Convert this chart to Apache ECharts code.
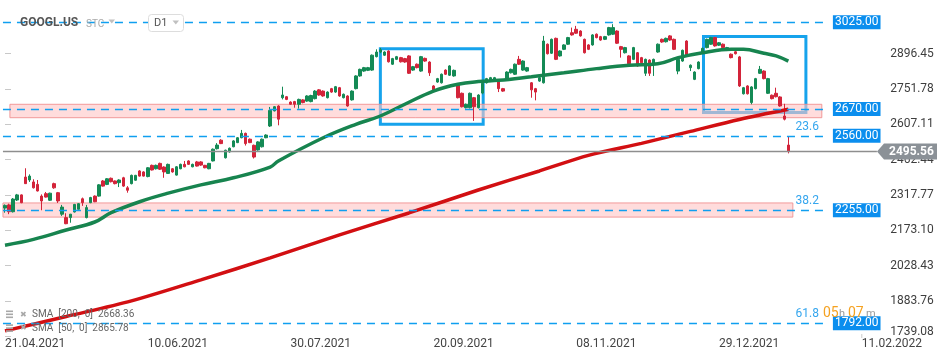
<!DOCTYPE html>
<html><head><meta charset="utf-8">
<script src="https://cdn.jsdelivr.net/npm/echarts@6/dist/echarts.min.js"></script>
<style>html,body{margin:0;padding:0;background:#fff}#c{width:950px;height:361px}</style>
</head><body><div id="c"></div>
<script>
// ---- data ----
const barSlots = 215; // number of category slots incl. empty future space
const categories = Array.from({length: barSlots}, (_, i) => 'bar' + i);
const tickLabels = ['21.04.2021','10.06.2021','30.07.2021','20.09.2021','08.11.2021','29.12.2021','11.02.2022'];
const tickIndex = [0,35,70,105,140,175,210];
const yTicks = [1739.08,1883.76,2028.43,2173.10,2317.77,2462.44,2607.11,2751.78,2896.45];

const opens = [2264,2277,2249,2297,2318,2391,2379,2371,2361,2313,
2323,2296,2364,2327,2239,2225,2225,2248,2259,2302,
2225,2286,2313,2313,2375,2361,2386,2375,2368,2388,
2347,2364,2378,2416,2412,2393,2439,2425,2447,2432,
2406,2425,2399,2425,2443,2457,2433,2453,2453,2439,
2425,2457,2507,2542,2470,2494,2515,2532,2552,2570,
2546,2521,2502,2515,2552,2600,2662,2682,2716,2720,
2698,2700,2689,2707,2702,2700,2712,2748,2743,2716,
2753,2739,2757,2716,2723,2707,2753,2805,2825,2828,
2829,2884,2903,2890,2907,2853,2873,2880,2876,2887,
2829,2853,2825,2877,2862,2764,2780,2777,2829,2808,
2805,2771,2734,2675,2675,2716,2675,2735,2777,2789,
2784,2784,2753,2791,2818,2812,2873,2829,2825,2777,
2753,2784,2777,2935,2898,2959,2887,2914,2935,2982,
2996,2989,2955,2932,2932,2976,2966,2955,2973,2976,
2989,2925,2900,2887,2873,2900,2880,2816,2870,2853,
2903,2955,2945,2969,2955,2825,2866,2948,2839,2791,
2835,2900,2921,2935,2962,2931,2935,2910,2894,2904,
2883,2732,2764,2696,2753,2816,2825,2734,2726,2734,
2719,2641,2522];
const closes = [2275,2249,2301,2318,2286,2364,2395,2347,2334,2293,
2309,2325,2347,2293,2268,2200,2239,2279,2282,2286,
2266,2307,2290,2359,2354,2384,2372,2364,2379,2354,
2337,2398,2398,2395,2395,2429,2420,2439,2423,2412,
2443,2412,2433,2443,2433,2443,2443,2436,2440,2429,
2447,2505,2522,2528,2501,2509,2539,2552,2570,2528,
2532,2473,2535,2546,2563,2664,2679,2628,2727,2709,
2689,2689,2709,2696,2723,2725,2743,2727,2723,2739,
2739,2761,2723,2730,2682,2743,2805,2832,2839,2839,
2890,2903,2912,2903,2863,2876,2884,2863,2862,2816,
2843,2839,2884,2866,2818,2748,2794,2812,2812,2846,
2828,2716,2679,2689,2734,2679,2727,2775,2794,2798,
2798,2753,2743,2821,2832,2853,2853,2866,2839,2748,
2739,2798,2948,2896,2955,2873,2907,2932,2962,2973,
2980,2969,2900,2914,2973,2962,2952,2966,3003,3003,
2939,2914,2921,2855,2921,2846,2859,2873,2816,2873,
2935,2944,2959,2952,2914,2873,2910,2890,2849,2821,
2862,2918,2955,2962,2928,2941,2921,2921,2880,2896,
2764,2757,2732,2760,2794,2832,2794,2794,2712,2720,
2682,2628,2495.56];
const lows = [2245,2239,2246,2293,2284,2363,2371,2344,2332,2255,
2307,2293,2343,2285,2232,2198,2204,2246,2257,2273,
2222,2284,2288,2311,2352,2358,2369,2361,2350,2351,
2327,2361,2376,2393,2393,2390,2418,2422,2420,2388,
2404,2409,2397,2423,2431,2441,2431,2434,2437,2427,
2423,2455,2504,2526,2467,2491,2513,2530,2550,2520,
2530,2467,2499,2512,2550,2596,2660,2603,2709,2706,
2686,2675,2671,2693,2699,2697,2709,2724,2720,2713,
2736,2736,2720,2713,2679,2704,2750,2802,2822,2825,
2826,2881,2898,2887,2860,2850,2870,2860,2859,2813,
2826,2836,2822,2863,2805,2745,2777,2774,2809,2805,
2802,2713,2676,2672,2672,2621,2672,2730,2774,2786,
2781,2739,2740,2788,2815,2809,2850,2826,2822,2716,
2705,2781,2774,2893,2895,2870,2884,2911,2932,2970,
2977,2966,2897,2911,2929,2959,2949,2952,2970,2973,
2936,2880,2897,2852,2870,2843,2856,2805,2805,2805,
2900,2941,2942,2949,2911,2812,2863,2887,2825,2788,
2832,2897,2918,2932,2925,2928,2918,2907,2877,2893,
2760,2729,2729,2689,2750,2813,2791,2731,2709,2717,
2679,2623,2488];
const highs = [2279,2282,2305,2322,2320,2427,2402,2382,2379,2320,
2330,2327,2368,2330,2277,2243,2240,2281,2284,2307,
2277,2310,2316,2362,2379,2387,2389,2377,2382,2392,
2354,2401,2400,2419,2415,2432,2442,2442,2450,2435,
2446,2428,2436,2446,2457,2460,2446,2457,2456,2441,
2449,2508,2530,2546,2503,2512,2542,2555,2584,2573,
2549,2524,2538,2549,2566,2678,2682,2685,2761,2723,
2701,2703,2712,2710,2726,2728,2747,2751,2746,2742,
2756,2764,2760,2733,2726,2746,2808,2835,2842,2842,
2893,2914,2920,2906,2910,2879,2887,2883,2879,2890,
2846,2856,2887,2880,2865,2767,2797,2815,2832,2849,
2831,2774,2737,2692,2737,2719,2730,2780,2797,2801,
2801,2787,2756,2824,2835,2856,2887,2869,2842,2780,
2756,2801,2969,2938,2958,2962,2910,2935,2965,3003,
3010,2992,2958,2935,2976,2979,2969,2969,3006,3017,
2992,2928,2924,2890,2924,2903,2883,2876,2873,2876,
2938,2958,2962,2972,2958,2876,2913,2951,2852,2824,
2865,2921,2958,2965,2965,2944,2938,2924,2897,2907,
2887,2760,2767,2763,2797,2846,2828,2797,2729,2757,
2722,2691,2555];

const sma50 = [[0,2112],[7,2136],[15,2174],[22,2207],[26,2245],[33,2290],[40,2325],[48,2359],[56,2388],[65,2432],[67,2457],[78,2552],[86,2607],[92,2641],[98,2689],[105,2743],[111,2771],[116,2782],[121,2787],[129,2802],[137,2818],[145,2835],[153,2849],[160,2855],[165,2880],[171,2900],[178,2914],[181,2914],[186,2898],[189,2887],[192,2865.78]];
const sma200 = [[0,1761],[15,1820],[31,1884],[48,1970],[65,2060],[82,2154],[99,2244],[116,2338],[131,2416],[143,2480],[156,2529],[168,2578],[180,2627],[192,2668.36]];

// horizontal levels and annotations
const levels = [3025, 2670, 2560, 2255, 1792];
const fibLevels = [2560, 2255, 1792];
const fibTexts = ['23.6', '38.2', '61.8'];
const lastPrice = 2495.56;
const bands = [[1.2, 200.2, 2634, 2689], [-0.5, 193.1, 2227, 2285]];
const boxes = [[92.0, 117.2, 2607, 2916], [171.2, 196.3, 2655, 2967]];
const legendTexts = ['SMA  [200,  0]  2668.36', 'SMA  [50,  0]  2865.78'];

// ---- chart ----
const GREEN = '#148a55', RED = '#d3243a', BLUE = '#0f9ff0', BADGE = '#0b8eee';
const lineStart = -0.5, lineEnd = 201.2;
const nBars = opens.length;

const candleData = opens.map((o, i) => [o, closes[i], lows[i], highs[i]]);

const levelLineData = levels.map(v => [
  {coord: [lineStart, v], lineStyle: {color: BLUE, width: 1.3, type: [8, 6]},
   label: {show: true, position: 'end', distance: 7, formatter: v.toFixed(2),
     backgroundColor: BADGE, color: '#fff', fontSize: 12, lineHeight: 13, padding: [1, 2, 0, 2]}},
  {coord: [lineEnd, v]}
]);
const fibLabelData = fibLevels.map((v, k) => [
  {coord: [lineStart, v], lineStyle: {color: 'rgba(255,255,255,0)', width: 1, type: 'solid'},
   label: {show: true, position: 'insideEndTop', distance: [7, 3], formatter: fibTexts[k],
     color: '#35a6ee', fontSize: 12}},
  {coord: [lineEnd, v]}
]);
const lastLineData = [[
  {coord: [lineStart, lastPrice], lineStyle: {color: '#8e8e8e', width: 1.3, type: 'solid'}, label: {show: false}},
  {coord: [213.7, lastPrice]}
]];

const option = {
  animation: false,
  textStyle: {fontFamily: 'Roboto'},
  grid: {left: 2.96, top: 0, width: 877.2, height: 338},
  xAxis: [
    {type: 'category', data: categories, boundaryGap: true,
     axisLine: {show: false}, axisTick: {show: false}, splitLine: {show: false},
     axisLabel: {interval: (idx) => tickIndex.indexOf(idx) >= 0 && idx < nBars,
       formatter: (val, idx) => (tickIndex.indexOf(idx) >= 0 && idx < nBars) ? tickLabels[tickIndex.indexOf(idx)] : '',
       align: 'left', color: '#444', fontSize: 12, margin: 0, showMinLabel: true, showMaxLabel: true}},
    {type: 'value', min: -0.5, max: barSlots - 0.5, show: false}
  ],
  yAxis: {type: 'value', position: 'right', min: 1732, max: 3116, offset: 1, scale: true,
    axisLine: {show: false}, splitLine: {show: false},
    axisTick: {show: true, length: 6, lineStyle: {color: '#c8c8c8'}, customValues: yTicks},
    axisLabel: {customValues: yTicks,
      formatter: (v) => Number(v) === yTicks[0] ? '{low|' + Number(v).toFixed(2) + '}' : Number(v).toFixed(2),
      rich: {low: {color: '#3e3e3e', fontSize: 12, padding: [0, 0, 8, 0]}},
      color: '#3e3e3e', fontSize: 12, margin: 9}},
  series: [
    {type: 'candlestick', xAxisIndex: 0, data: candleData, barWidth: 3, z: 2,
     itemStyle: {color: GREEN, color0: RED, borderColor: GREEN, borderColor0: RED, borderWidth: 1}},
    {type: 'line', xAxisIndex: 1, data: sma200, symbol: 'none', smooth: 0.3, z: 3,
     lineStyle: {color: '#d20f12', width: 3.5}},
    {type: 'line', xAxisIndex: 1, data: sma50, symbol: 'none', smooth: 0.4, z: 3,
     lineStyle: {color: '#17844f', width: 3.5}},
    {type: 'line', xAxisIndex: 1, data: [], z: 4, clip: false, silent: true,
     markArea: {silent: true, data: boxes.map(b => [
       {coord: [b[0], b[3]], itemStyle: {color: 'rgba(0,0,0,0)', borderColor: '#16a3ec', borderWidth: 3}},
       {coord: [b[1], b[2]]}])}},
    {type: 'line', xAxisIndex: 1, data: [], z: 5, clip: false, silent: true,
     markLine: {silent: true, symbol: ['none', 'none'], data: levelLineData.concat(fibLabelData, lastLineData)}},
    {type: 'line', xAxisIndex: 1, data: [], z: 6, clip: false, silent: true,
     markArea: {silent: true, data: bands.map(b => [
       {coord: [b[0], b[3]], itemStyle: {color: 'rgba(255,196,196,0.6)', borderColor: 'rgba(240,140,140,0.85)', borderWidth: 1}},
       {coord: [b[1], b[2]]}])}}
  ]
};

const chart = echarts.init(document.getElementById('c'), null, {renderer: 'canvas'});
chart.setOption(option);

const yl = chart.convertToPixel({yAxisIndex: 0}, lastPrice);
const y1792 = chart.convertToPixel({yAxisIndex: 0}, 1792);
const gfx = [];
// future-date tick labels (beyond the last bar)
tickIndex.forEach((ti, k) => {
  if (ti < nBars) return;
  const px = chart.convertToPixel({xAxisIndex: 1}, ti);
  gfx.push({type: 'rect', z: 90, shape: {x: px - 0.5, y: 334, width: 1, height: 4}, style: {fill: '#ccc'}});
  gfx.push({type: 'text', x: px, y: 344, z: 90, style: {text: tickLabels[k], fill: '#444', font: '12px Roboto', textVerticalAlign: 'middle'}});
});
// title
gfx.push({type: 'text', x: 20, y: 23, z: 100, style: {text: 'GOOGL.US', fill: '#555', font: 'bold 12px Roboto', textVerticalAlign: 'middle'}});
gfx.push({type: 'text', x: 86, y: 24, z: 100, style: {text: 'STC', fill: '#aaa', font: '10px Roboto', textVerticalAlign: 'middle'}});
gfx.push({type: 'polygon', z: 100, shape: {points: [[108.5, 19.5], [115, 19.5], [111.75, 23.5]]}, style: {fill: '#c0c0c0'}});
gfx.push({type: 'rect', z: 99, shape: {x: 148.5, y: 14.5, width: 35, height: 17, r: 3}, style: {fill: '#fff', stroke: '#ddd', lineWidth: 1}});
gfx.push({type: 'text', x: 154, y: 23, z: 100, style: {text: 'D1', fill: '#555', font: '11px Roboto', textVerticalAlign: 'middle'}});
gfx.push({type: 'polygon', z: 100, shape: {points: [[172.5, 20.5], [179, 20.5], [175.75, 24.5]]}, style: {fill: '#c0c0c0'}});
// SMA legend
[[314.5, legendTexts[0]], [328.3, legendTexts[1]]].forEach(([yy, t]) => {
  for (let k = 0; k < 3; k++) gfx.push({type: 'rect', z: 100, shape: {x: 6, y: yy - 4 + k * 3, width: 7, height: 1.6}, style: {fill: '#a8a8a8'}});
  gfx.push({type: 'text', x: 20, y: yy, z: 100, style: {text: '✖', fill: '#a8a8a8', font: 'bold 8px DejaVu Sans', textVerticalAlign: 'middle'}});
  gfx.push({type: 'text', x: 32, y: yy, z: 100, style: {text: t, fill: '#666', font: '10px Roboto', textVerticalAlign: 'middle'}});
});
// countdown
gfx.push({type: 'text', x: 823, y: y1792 - 10, z: 120, style: {text: '05', fill: '#f5a221', font: '14px Roboto', textVerticalAlign: 'middle'}});
gfx.push({type: 'text', x: 839, y: y1792 - 9, z: 120, style: {text: 'h', fill: '#9a9a9a', font: '11px Roboto', textVerticalAlign: 'middle'}});
gfx.push({type: 'text', x: 848, y: y1792 - 10, z: 120, style: {text: '07', fill: '#f5a221', font: '14px Roboto', textVerticalAlign: 'middle'}});
gfx.push({type: 'text', x: 866, y: y1792 - 9, z: 120, style: {text: 'm', fill: '#9a9a9a', font: '11px Roboto', textVerticalAlign: 'middle'}});
// last price badge
gfx.push({type: 'polygon', z: 110, shape: {points: [[877, yl], [884, yl - 8], [937, yl - 8], [937, yl + 8], [884, yl + 8]]}, style: {fill: '#8b9197'}});
gfx.push({type: 'text', x: 889, y: yl, z: 111, style: {text: lastPrice.toFixed(2), fill: '#fff', font: 'bold 12px Roboto', textVerticalAlign: 'middle'}});
chart.setOption({graphic: gfx});
</script></body></html>
